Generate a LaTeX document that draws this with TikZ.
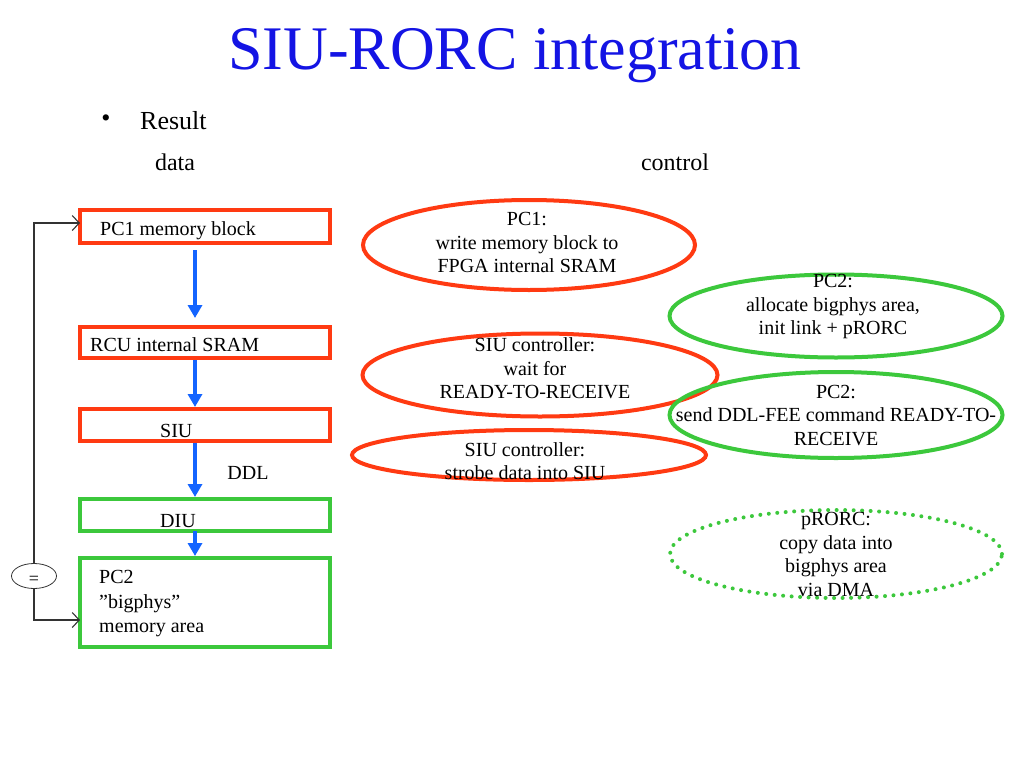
\documentclass[tikz,border=0pt]{standalone}
\usepackage{fontspec}
\setmainfont{Liberation Serif}
\usetikzlibrary{shapes.geometric,arrows.meta}
\definecolor{redo}{RGB}{255,58,18}
\definecolor{grn}{RGB}{60,200,60}
\definecolor{arrblue}{RGB}{20,100,255}
\definecolor{titleblue}{RGB}{20,20,228}
\begin{document}
\begin{tikzpicture}[x=1pt,y=-1pt,
  txt/.style={font=\fontsize{20}{23.5}\selectfont, inner sep=0pt, align=center},
  boxbase/.style={rectangle, line width=4pt, inner sep=0pt, outer sep=0pt, minimum width=250pt},
  redbox/.style={boxbase, draw=redo},
  grnbox/.style={boxbase, draw=grn},
  ellbase/.style={ellipse, line width=4pt, inner sep=0pt, outer sep=0pt},
  redell/.style={ellbase, draw=redo},
  grnell/.style={ellbase, draw=grn},
  dotell/.style={ellipse, inner sep=0pt, draw=grn, line width=4pt, line cap=round, dash pattern=on 0pt off 8.5pt},
  flow/.style={draw=arrblue, line width=4pt, -{Triangle[length=13pt,width=14pt]}},
  fb/.style={draw=black!80, line width=1.1pt, -{Straight Barb[length=7pt,width=15pt]}}]
\useasboundingbox (0,0) rectangle (1024,768);
\fill[white] (0,0) rectangle (1024,768);

% title and headings
\node[font=\fontsize{62}{70}\selectfont, text=titleblue, inner sep=0pt] (title) at (515,56) {SIU-RORC integration};
\node[font=\fontsize{26}{30}\selectfont, inner sep=0pt] (bul) at (106,121) {•};
\node[font=\fontsize{26}{30}\selectfont, inner sep=0pt, anchor=west] (res) at (140,121) {Result};
\node[font=\fontsize{24}{28}\selectfont, inner sep=0pt] (data) at (175,162) {data};
\node[font=\fontsize{24}{28}\selectfont, inner sep=0pt] (ctrl) at (675,162) {control};

% data path boxes
\node[redbox, minimum height=33pt] (b1) at (205,226.5) {};
\node[txt, anchor=west] (t1) at (100,231) {PC1 memory block};
\node[redbox, minimum height=31pt] (b2) at (205,342.5) {};
\node[txt, anchor=west] (t2) at (90,345) {RCU internal SRAM};
\node[redbox, minimum height=32pt] (b3) at (205,425) {};
\node[txt, anchor=west] (t3) at (160,431) {SIU};
\node[grnbox, minimum height=32pt] (b4) at (205,515) {};
\node[txt, anchor=west] (t4) at (160,521) {DIU};
\node[grnbox, minimum height=89pt] (b5) at (205,602.5) {};
\node[txt, align=left, anchor=west, font=\fontsize{20}{24.5}\selectfont] (t5) at (99,604) {PC2\\”bigphys”\\memory area};
\node[txt] (ddl) at (248,473) {DDL};

\draw[flow, shorten <=7pt, shorten >=9pt] ([xshift=-10pt]b1.south) -- ([xshift=-10pt]b2.north);
\draw[flow, shorten <=2pt, shorten >=2pt] ([xshift=-10pt]b2.south) -- ([xshift=-10pt]b3.north);
\draw[flow, shorten <=2pt, shorten >=2pt] ([xshift=-10pt]b3.south) -- ([xshift=-10pt]b4.north);
\draw[flow, shorten <=0pt, shorten >=2pt] ([xshift=-10pt]b4.south) -- ([xshift=-10pt]b5.north);

% feedback loop
\node[draw=black!80, line width=0.8pt, ellipse, inner sep=0pt, outer sep=0pt, minimum width=45pt, minimum height=25pt, font=\fontsize{18}{20}\selectfont] (eq) at (34,576) {\raisebox{-8pt}[0pt][0pt]{=}};
\coordinate (fbt) at (34,223);
\coordinate (fbb) at (34,620);
\draw[fb] (eq.north) -- (fbt) -- (fbt -| b1.west);
\draw[fb] (eq.south) -- (fbb) -- (fbb -| b5.west);

% control ellipses
\node[redell, minimum width=332pt, minimum height=90pt] (e1) at (529,245) {};
\node[txt] (c1) at (527,242.5) {PC1:\\write memory block to\\FPGA internal SRAM};
\node[grnell, minimum width=333pt, minimum height=83pt] (e2) at (836,316) {};
\node[txt] (c2) at (833,307) {PC2:\\allocate bigphys area,\\init link + pRORC};
\node[redell, minimum width=355pt, minimum height=83pt] (e3) at (540,375) {};
\node[txt] (c3) at (535,368.5) {SIU controller:\\wait for\\READY-TO-RECEIVE};
\node[grnell, minimum width=333pt, minimum height=86pt] (e4) at (836,415) {};
\node[txt] (c4) at (836,415.5) {PC2:\\send DDL-FEE command READY-TO-\\RECEIVE};
\node[redell, minimum width=354pt, minimum height=50pt] (e5) at (529,455) {};
\node[txt] (c5) at (525,461) {SIU controller:\\strobe data into SIU};
\node[dotell, minimum width=332pt, minimum height=88pt] (e6) at (836,554) {};
\node[txt] (c6) at (836,554.5) {pRORC:\\copy data into\\bigphys area\\via DMA};
\end{tikzpicture}
\end{document}
